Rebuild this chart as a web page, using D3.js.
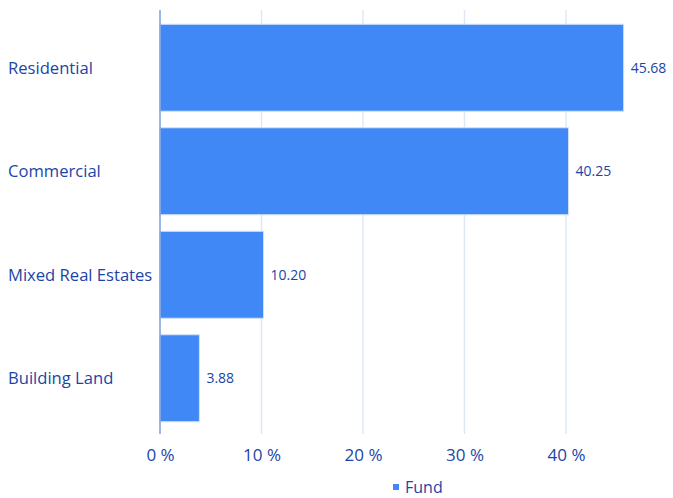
<!DOCTYPE html>
<html><head><meta charset="utf-8">
<script src="https://cdn.jsdelivr.net/npm/d3@7"></script>
<style>body{margin:0;background:#fff}svg{display:block;font-family:"Open Sans","Noto Sans",sans-serif}</style>
</head><body><svg id="c" width="673" height="498"></svg>
<script>
const categories = ["Residential","Commercial","Mixed Real Estates","Building Land"];
const fundValues = [45.68,40.25,10.20,3.88];
const tickValues = [0,10,20,30,40];
const seriesName = "Fund";

const svg = d3.select("#c");
const x = d3.scaleLinear().domain([0,10]).range([160,261.5]);
const y = d3.scaleBand().domain(categories).range([16,430]).paddingInner(0.16).paddingOuter(0.08);
const textColor = "#1a45a8";
const barColor = "#3f88f5";

// grid
svg.append("g").selectAll("line").data(tickValues.slice(1)).join("line")
  .attr("x1",d=>x(d)).attr("x2",d=>x(d)).attr("y1",10).attr("y2",434)
  .attr("stroke","#dde8f7").attr("stroke-width",1.5);

// bars
svg.append("g").selectAll("rect").data(fundValues).join("rect")
  .attr("x",x(0)).attr("y",(d,i)=>y(categories[i]))
  .attr("width",d=>x(d)-x(0)).attr("height",y.bandwidth())
  .attr("fill",barColor).attr("stroke","#cfe0fb").attr("stroke-width",1);

// axis line
svg.append("line").attr("x1",x(0)).attr("x2",x(0)).attr("y1",10).attr("y2",434)
  .attr("stroke","#7c9fdc").attr("stroke-width",1.5);

// value labels
svg.append("g").selectAll("text").data(fundValues).join("text")
  .attr("x",d=>x(d)+7).attr("y",(d,i)=>y(categories[i])+y.bandwidth()/2)
  .attr("dy","0.35em").attr("fill",textColor).attr("font-size",14)
  .text(d=>d.toFixed(2));

// category labels
svg.append("g").selectAll("text").data(categories).join("text")
  .attr("x",8).attr("y",d=>y(d)+y.bandwidth()/2).attr("dy","0.35em")
  .attr("fill",textColor).attr("font-size",16.6).text(d=>d);

// x tick labels
const xAxis = d3.axisBottom(x).tickValues(tickValues).tickSize(0).tickPadding(0).tickFormat(d=>d+" %");
const gx = svg.append("g").attr("transform","translate(0,449)").call(xAxis);
gx.select(".domain").remove();
gx.selectAll("text").attr("fill",textColor).attr("font-size",17).attr("font-family","\"Open Sans\",\"Noto Sans\",sans-serif").attr("dy","0.71em");

// legend
const lg = svg.append("g");
lg.append("rect").attr("x",393).attr("y",484).attr("width",6).attr("height",6).attr("fill",barColor);
lg.append("text").attr("x",405).attr("y",487).attr("dy","0.35em").attr("fill",textColor).attr("font-size",16).text(seriesName);
</script></body></html>
